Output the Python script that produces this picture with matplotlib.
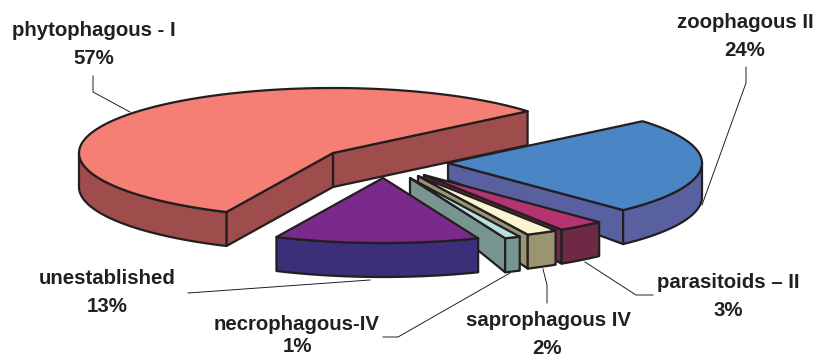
import numpy as np
import matplotlib
matplotlib.use('Agg')
import matplotlib.pyplot as plt
from matplotlib.patches import Polygon

plt.rcParams['font.family'] = ['Liberation Sans', 'DejaVu Sans']

# Share of each feeding group, in pie order (counter-clockwise)
names = ['phytophagous - I', 'unestablished', 'necrophagous-IV',
         'saprophagous IV', 'parasitoids \u2013 II', 'zoophagous II']
shares = [57, 13, 1, 2, 3, 24]

top_colors = ['#f67f75', '#7a2a8a', '#b9dfe1', '#fbf4d2', '#b5336f', '#4a86c6']
side_colors = ['#9e4c4c', '#3a2f78', '#78968f', '#9a9470', '#6e2a45', '#5860a0']

# Exploded centre of every slice, and how tall the wall is at that centre
centres = [(333, 153), (383, 178), (410, 178), (418, 176), (424, 175), (448, 163)]
inner_depth = [34, 17, 17, 17, 17, 17]
draw_order = [0, 5, 4, 3, 2, 1]

rx, ry = 254, 65
depth = 34
start_angle = 40
edge = '#231f20'
lw = 1.6

fig = plt.figure(figsize=(8.18, 3.56), dpi=100)
ax = fig.add_axes([0, 0, 1, 1])
ax.set_xlim(0, 818)
ax.set_ylim(356, 0)
ax.axis('off')


def rim(cx, cy, t):
    rad = np.radians(t)
    return cx + rx * np.cos(rad), cy - ry * np.sin(rad)


def add_poly(xs, ys, color):
    ax.add_patch(Polygon(np.column_stack([xs, ys]), closed=True, facecolor=color,
                         edgecolor=edge, linewidth=lw, joinstyle='round'))


bounds = start_angle + np.concatenate([[0], np.cumsum(shares)]) * 3.6

for i in draw_order:
    t0, t1 = bounds[i], bounds[i + 1]
    cx, cy = centres[i]
    d0 = inner_depth[i]

    # radial walls, only the ones turned towards the viewer
    for t, facing in [(t0, t0 - 90), (t1, t1 + 90)]:
        if np.sin(np.radians(facing)) < 0:
            x, y = rim(cx, cy, t)
            add_poly([cx, x, x, cx], [cy, y, y + depth, cy + d0], side_colors[i])

    # curved outer wall on the front half of the ellipse
    a = max(t0, 180)
    b = min(t1, 360)
    if b > a:
        ts = np.linspace(a, b, 80)
        x, y = rim(cx, cy, ts)
        add_poly(np.r_[x, x[::-1]], np.r_[y, y[::-1] + depth], side_colors[i])

    # top face
    ts = np.linspace(t0, t1, 200)
    x, y = rim(cx, cy, ts)
    add_poly(np.r_[cx, x], np.r_[cy, y], top_colors[i])

# leader lines
leaders = [
    ([93, 93, 130], [76, 92, 112]),
    ([746, 746, 702], [67, 83, 205]),
    ([188, 370], [293, 280]),
    ([383, 398, 510], [337, 337, 273]),
    ([543, 547, 547], [269, 285, 303]),
    ([585, 636, 653], [262, 295, 295]),
]
for lx, ly in leaders:
    ax.plot(lx, ly, color=edge, lw=0.7, solid_joinstyle='miter')

# labels: name on the first line, share below it
name_pos = [(94, 31), (107, 279), (297, 324), (548, 320), (728, 282), (745, 23)]
share_pos = [(94, 59), (107, 307), (297, 347), (547, 348), (728, 310), (745, 51)]
for i in range(len(names)):
    ax.text(name_pos[i][0], name_pos[i][1], names[i], ha='center', va='center',
            fontsize=14.7, fontweight='bold', color=edge)
    ax.text(share_pos[i][0], share_pos[i][1], f'{shares[i]}%', ha='center', va='center',
            fontsize=14.7, fontweight='bold', color=edge)

plt.savefig('out.png', dpi=100)
